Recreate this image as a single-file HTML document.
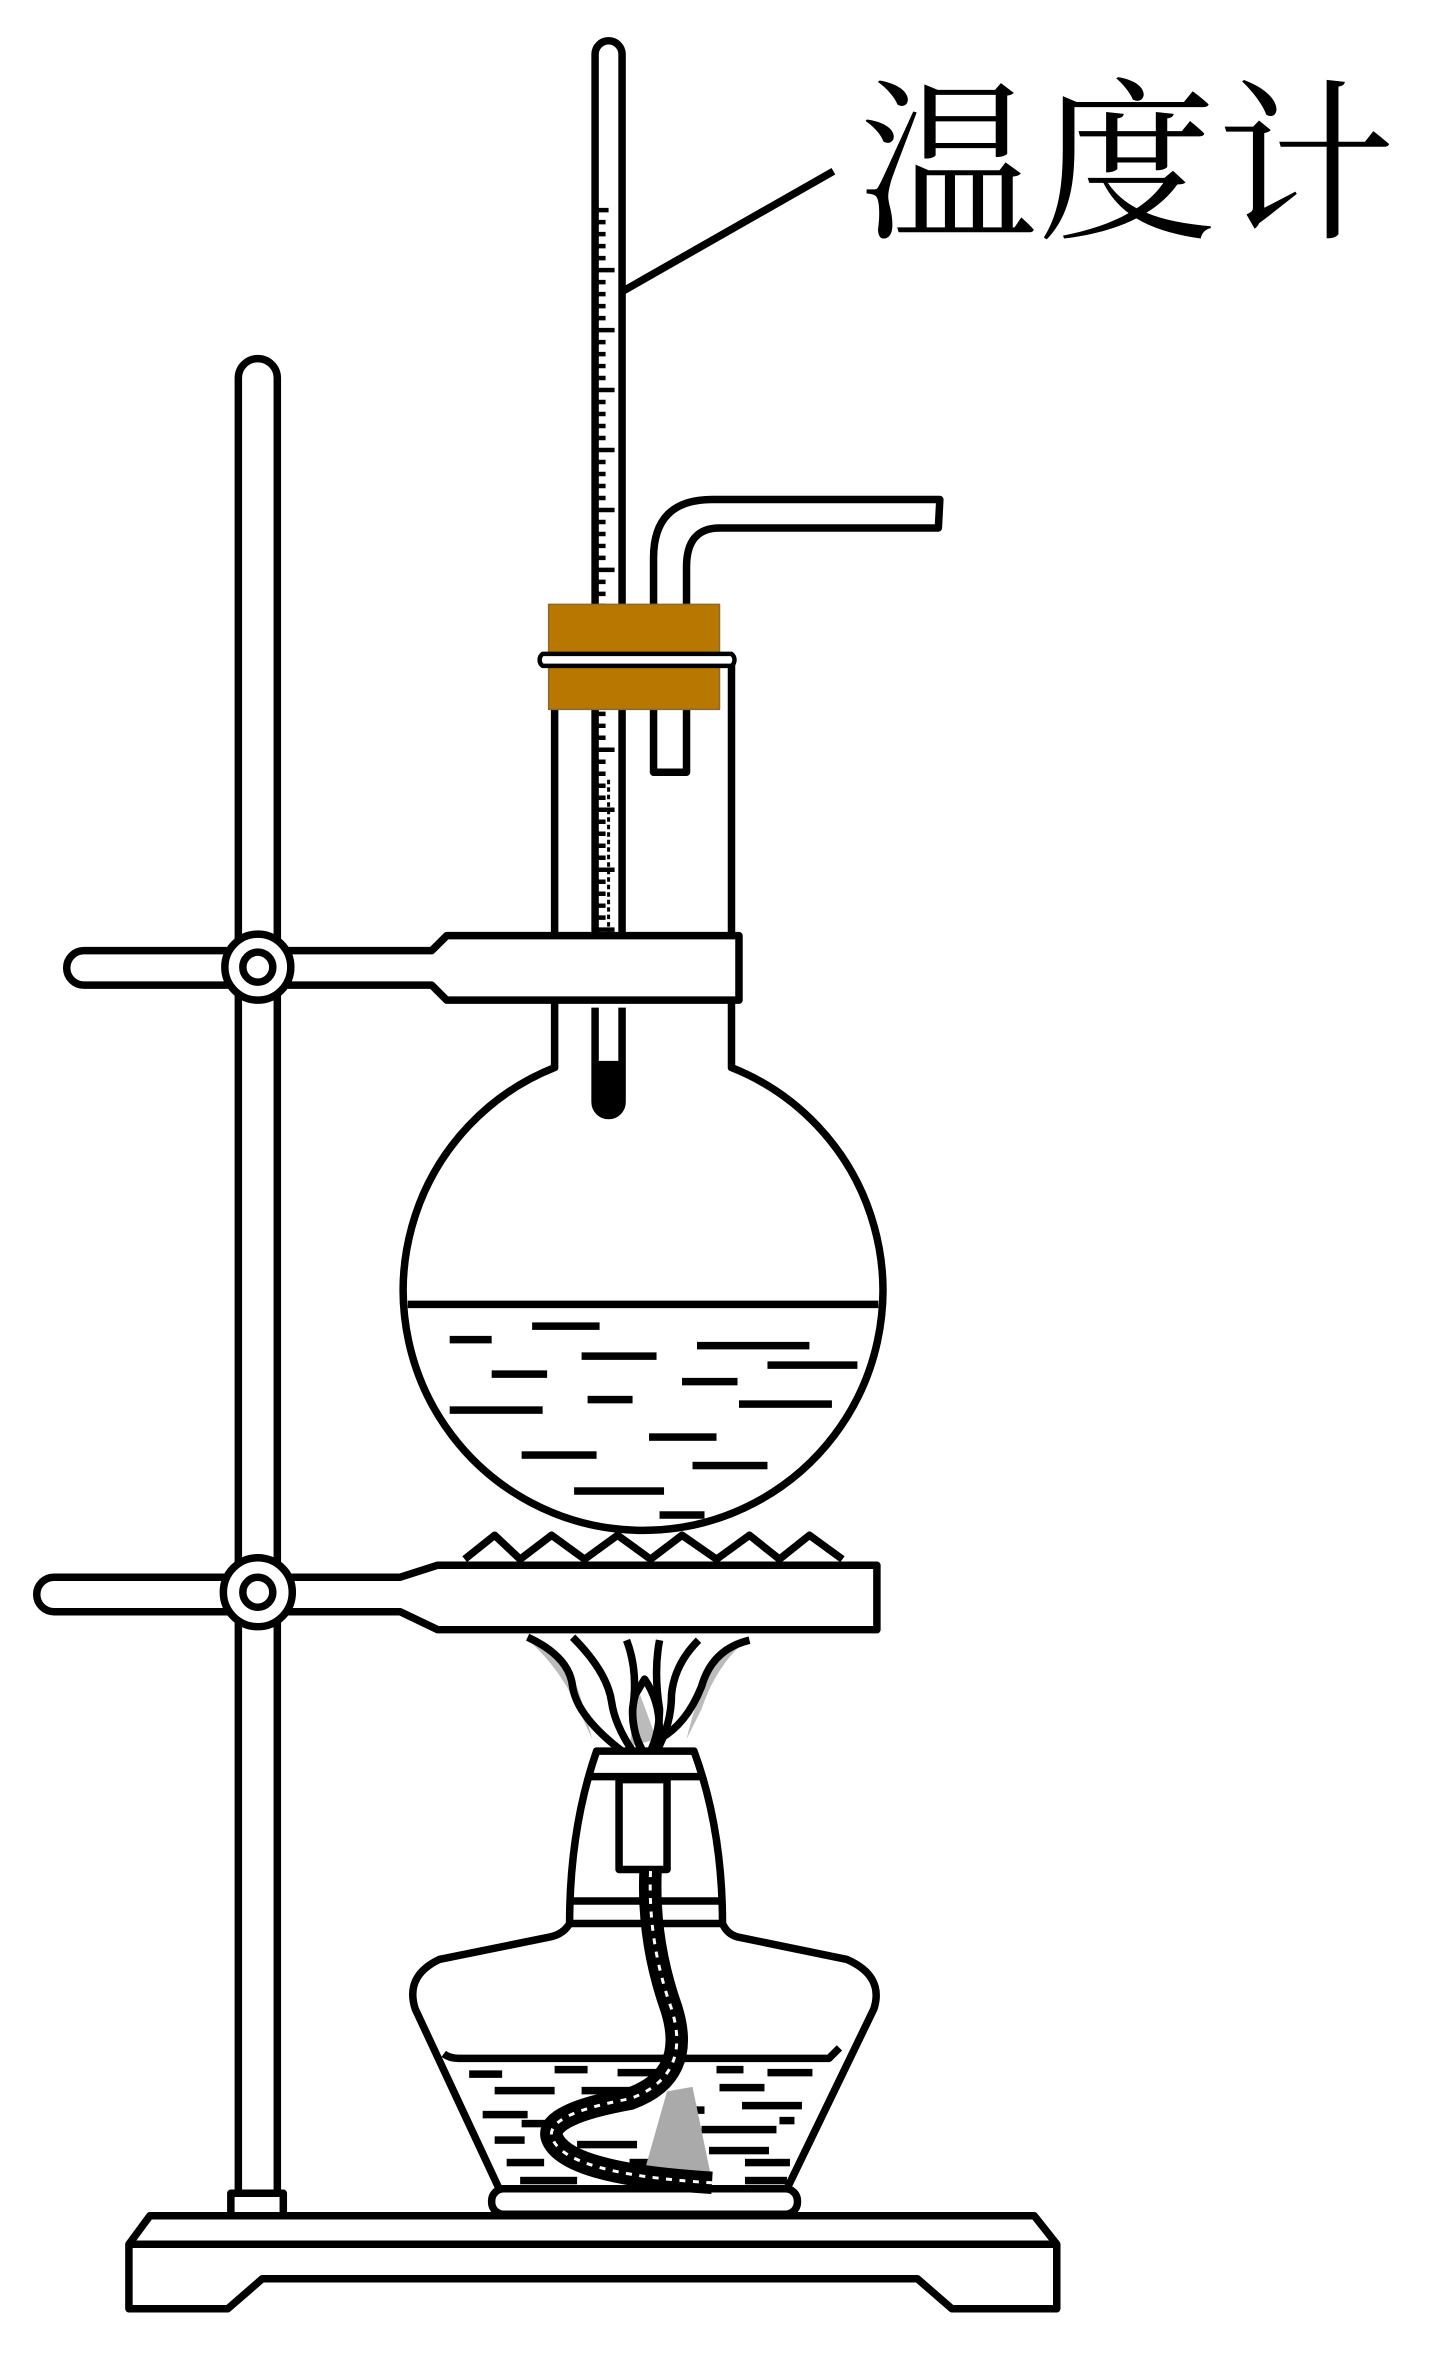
<!DOCTYPE html>
<html><head><meta charset="utf-8"><style>html,body{margin:0;padding:0;background:#fff}svg{display:block}</style></head>
<body>
<svg width="1439" height="2354" viewBox="0 0 960 1570" xmlns="http://www.w3.org/2000/svg">
<g fill="none" stroke="#000" stroke-width="5" stroke-linejoin="round">
<!-- label -->
<text x="573" y="150" font-family="'Noto Serif CJK SC','Liberation Serif',serif" font-size="116" fill="#000" stroke="none" textLength="358" lengthAdjust="spacingAndGlyphs">温度计</text>
<line x1="556" y1="114" x2="405" y2="200" stroke-width="5"/>

<!-- stand rod -->
<path d="M159 1465 V252 a13 13 0 0 1 26 0 V1465" fill="#fff"/>
<rect x="154" y="1463" width="35" height="16" fill="#fff"/>
<!-- base -->
<path d="M100 1478 H690 L705 1497 V1540 H635 L612 1520 H175 L152 1540 H86 V1497 Z" fill="#fff"/>
<line x1="86" y1="1497" x2="705" y2="1497"/>

<!-- flask -->
<path d="M370 440 V712 A160 160 0 1 0 488 712 V440" fill="#fff"/>
<line x1="272" y1="870" x2="586" y2="870" stroke-width="5"/>
<g stroke="none" fill="#000">
<rect x="300" y="891" width="28" height="5"/><rect x="355" y="882" width="45" height="5"/><rect x="465" y="895" width="75" height="5"/>
<rect x="328" y="914" width="37" height="5"/><rect x="388" y="902" width="50" height="5"/><rect x="455" y="919" width="37" height="5"/><rect x="512" y="908" width="60" height="5"/>
<rect x="300" y="938" width="62" height="5"/><rect x="392" y="931" width="30" height="5"/><rect x="493" y="934" width="62" height="5"/>
<rect x="433" y="956" width="45" height="5"/><rect x="348" y="968" width="50" height="5"/><rect x="462" y="975" width="50" height="5"/>
<rect x="383" y="992" width="60" height="5"/><rect x="440" y="1008" width="30" height="5"/>
</g>

<!-- bent tube -->
<path d="M436 515 V372 Q436 333 475 333 H627 L626 352 H480 Q458 352 458 378 V515 Z" fill="#fff"/>

<!-- thermometer -->
<path d="M397 630 V36 a9 9 0 0 1 18 0 V630" fill="#fff"/>
<path d="M397 672 V735 a9 9 0 0 0 18 0 V672" fill="#fff"/>
<path d="M400 710 V735 a6 6 0 0 0 12 0 V710Z" fill="#000"/>
<g stroke-width="3">
<path d="M398 140 H406 M398 148 H404 M398 156 H404 M398 164 H404 M398 172 H404 M398 180 H410 M398 188 H404 M398 196 H404 M398 204 H404 M398 212 H404 M398 220 H410 M398 228 H404 M398 236 H404 M398 244 H404 M398 252 H404 M398 260 H410 M398 268 H404 M398 276 H404 M398 284 H404 M398 292 H404 M398 300 H410 M398 308 H404 M398 316 H404 M398 324 H404 M398 332 H404 M398 340 H410 M398 348 H404 M398 356 H404 M398 364 H404 M398 372 H404 M398 380 H410 M398 388 H404 M398 396 H404 M398 404 H404 M398 412 H404 M398 420 H410 M398 428 H404 M398 436 H404 M398 444 H404 M398 452 H404 M398 460 H410 M398 468 H404 M398 476 H404 M398 484 H404 M398 492 H404 M398 500 H410 M398 508 H404 M398 516 H404 M398 524 H404 M398 532 H404 M398 540 H410 M398 548 H404 M398 556 H404 M398 564 H404 M398 572 H404 M398 580 H410 M398 588 H404 M398 596 H404 M398 604 H404 M398 612 H404 M398 620 H410"/>
</g>
<line x1="406" y1="520" x2="406" y2="625" stroke-width="2" stroke-dasharray="3 2"/>

<!-- stopper -->
<rect x="366" y="403" width="114" height="70" fill="#B87800" stroke="#8a6a30" stroke-width="1"/>
<path d="M362 436 a5 5 0 0 0 0 8 H488 a5 5 0 0 0 0 -8 Z" fill="#fff" stroke-width="3"/>

<!-- upper clamp -->
<path d="M56 634 H288 L298 624 H493 V667 H298 L288 657 H56 a11.5 11.5 0 0 1 0 -23 Z" fill="#fff"/>
<circle cx="172" cy="645" r="22" fill="#fff"/><circle cx="172" cy="645" r="10"/>

<!-- gauze -->
<path d="M310 1040 L330 1024 L347 1040 L368 1024 L390 1040 L412 1024 L434 1040 L455 1024 L478 1040 L500 1024 L520 1040 L540 1024 L562 1040" stroke-width="5"/>
<!-- lower clamp -->
<path d="M36 1052 H267 L292 1044 H585 V1087 H292 L267 1075 H36 a11.5 11.5 0 0 1 0 -23 Z" fill="#fff"/>
<circle cx="172" cy="1062" r="23" fill="#fff"/><circle cx="172" cy="1062" r="10"/>

<!-- flame -->
<path d="M350 1092 Q372 1110 386 1140 L395 1160 Q385 1120 378 1110 Z M500 1092 Q478 1110 468 1140 L458 1160 Q468 1120 478 1105 Z M425 1125 L438 1160 L420 1165 Z" fill="#bbb" stroke="none"/>
<path d="M352 1092 Q380 1105 382 1125 Q385 1145 415 1168"/>
<path d="M382 1092 Q405 1115 408 1135 Q410 1150 422 1168"/>
<path d="M418 1094 Q426 1115 422 1140 Q422 1155 428 1168"/>
<path d="M440 1094 Q436 1115 440 1140 Q440 1155 434 1168"/>
<path d="M466 1094 Q450 1110 448 1130 Q448 1150 438 1168"/>
<path d="M500 1094 Q475 1100 468 1125 Q458 1150 440 1160"/>
<path d="M430 1170 Q418 1150 424 1130 L430 1120 Q444 1140 438 1168"/>

<!-- alcohol lamp body -->
<path d="M380 1283 Q380 1220 398 1168 H463 Q482 1220 482 1283 Q485 1290 492 1292 L565 1307 Q590 1318 583 1340 L525 1460 H333 L277 1340 Q270 1318 293 1307 L367 1292 Q376 1290 380 1283 Z" fill="#fff"/>
<line x1="392" y1="1185" x2="468" y2="1185"/>
<line x1="380" y1="1268" x2="482" y2="1268"/>
<line x1="380" y1="1283" x2="482" y2="1283"/>
<path d="M296 1370 Q300 1373 306 1373 H553 L560 1366"/>
<rect x="413" y="1187" width="32" height="60" fill="#fff"/>
<rect x="328" y="1460" width="204" height="17" rx="8" fill="#fff"/>
<g stroke="none" fill="#000">
<rect x="313" y="1381" width="22" height="5"/><rect x="370" y="1378" width="22" height="5"/><rect x="412" y="1380" width="40" height="5"/><rect x="478" y="1378" width="18" height="5"/><rect x="512" y="1380" width="30" height="5"/>
<rect x="330" y="1392" width="40" height="5"/><rect x="388" y="1392" width="42" height="5"/><rect x="480" y="1390" width="30" height="5"/><rect x="495" y="1402" width="40" height="5"/>
<rect x="322" y="1408" width="30" height="5"/><rect x="378" y="1405" width="30" height="5"/><rect x="468" y="1418" width="50" height="5"/><rect x="520" y="1412" width="10" height="5"/>
<rect x="330" y="1425" width="20" height="5"/><rect x="385" y="1428" width="40" height="5"/><rect x="473" y="1432" width="40" height="5"/>
<rect x="338" y="1440" width="25" height="5"/><rect x="420" y="1440" width="30" height="5"/><rect x="497" y="1440" width="30" height="5"/>
<rect x="347" y="1452" width="38" height="5"/><rect x="402" y="1448" width="30" height="5"/><rect x="497" y="1452" width="28" height="5"/>
<rect x="348" y="1414" width="20" height="5"/><rect x="460" y="1405" width="10" height="5"/>
</g>
<path d="M445 1395 L462 1392 L475 1455 L430 1448 Z" fill="#aaa" stroke="none"/>
<!-- wick -->
<path d="M434 1248 Q432 1295 448 1340 Q462 1385 420 1400 Q365 1410 368 1425 Q375 1450 475 1456" stroke-width="15"/>
<path d="M434 1248 Q432 1295 448 1340 Q462 1385 420 1400 Q365 1410 368 1425 Q375 1450 475 1456" stroke="#fff" stroke-width="2" stroke-dasharray="4 5"/>
</g>
</svg>
</body></html>
